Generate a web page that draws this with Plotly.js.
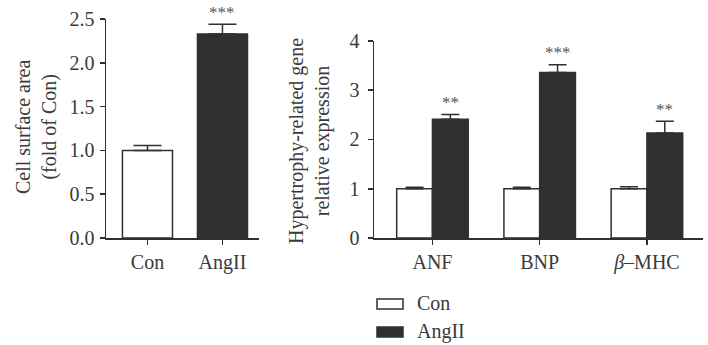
<!DOCTYPE html>
<html>
<head>
<meta charset="utf-8">
<script src="https://cdn.plot.ly/plotly-3.0.1.min.js"></script>
<style>html,body{margin:0;padding:0;background:#fff;}#chart{width:708px;height:345px;}</style>
</head>
<body>
<div id="chart"></div>
<script>
// Left panel: cell surface area
const areaCategories = ["Con", "AngII"];
const areaValues = [1.00, 2.33];
const areaErrors = [0.055, 0.11];
const areaSig = ["", "***"];

// Right panel: hypertrophy-related gene expression
const geneCategories = ["ANF", "BNP", "<i>β</i>–MHC"];
const conValues = [1.00, 1.00, 1.00];
const conErrors = [0.03, 0.03, 0.04];
const angValues = [2.41, 3.36, 2.13];
const angErrors = [0.10, 0.16, 0.24];
const geneSig = ["**", "***", "**"];

const seriesNames = ["Con", "AngII"];

const DARK = "#2f302f";
const TXT = "#3a3a3a";
const FONT = "Liberation Serif, Times New Roman, serif";

const traces = [
  {
    type: "bar", x: areaCategories, y: areaValues, xaxis: "x", yaxis: "y",
    marker: {color: ["#ffffff", DARK], line: {color: DARK, width: 1.5}},
    error_y: {type: "data", array: areaErrors, arrayminus: areaErrors.map(() => 0), symmetric: false,
              color: DARK, thickness: 1.5, width: 14},
    showlegend: false, hoverinfo: "x+y"
  },
  {
    type: "bar", name: seriesNames[0], x: geneCategories, y: conValues, xaxis: "x2", yaxis: "y2",
    marker: {color: "#ffffff", line: {color: DARK, width: 1.5}},
    error_y: {type: "data", array: conErrors, arrayminus: conErrors.map(() => 0), symmetric: false,
              color: DARK, thickness: 1.5, width: 9},
    showlegend: false
  },
  {
    type: "bar", name: seriesNames[1], x: geneCategories, y: angValues, xaxis: "x2", yaxis: "y2",
    marker: {color: DARK, line: {color: DARK, width: 1.5}},
    error_y: {type: "data", array: angErrors, arrayminus: angErrors.map(() => 0), symmetric: false,
              color: DARK, thickness: 1.5, width: 9},
    showlegend: false
  }
];

const annotations = [];
areaCategories.forEach((c, i) => {
  if (areaSig[i]) annotations.push({xref: "x", yref: "y", x: c, y: areaValues[i] + areaErrors[i],
    text: areaSig[i], showarrow: false, yanchor: "middle", yshift: 12, borderpad: 0,
    font: {family: FONT, size: 17, color: "#555"}});
});
geneCategories.forEach((c, i) => {
  if (geneSig[i]) annotations.push({xref: "x2", yref: "y2", x: c, y: angValues[i] + angErrors[i],
    text: geneSig[i], showarrow: false, yanchor: "middle", xshift: 18, yshift: 12, borderpad: 0,
    font: {family: FONT, size: 17, color: "#555"}});
});
// axis titles
annotations.push({xref: "paper", yref: "paper", x: 37/708, y: 1 - 127/345, textangle: -90,
  xanchor: "center", yanchor: "middle",
  text: "Cell surface area<br>(fold of Con)", showarrow: false,
  font: {family: FONT, size: 20, color: TXT}});
annotations.push({xref: "paper", yref: "paper", x: 309/708, y: 1 - 141/345, textangle: -90,
  xanchor: "center", yanchor: "middle",
  text: "Hypertrophy-related gene<br>relative expression", showarrow: false,
  font: {family: FONT, size: 20, color: TXT}});
// legend text
seriesNames.forEach((n, i) => {
  annotations.push({xref: "paper", yref: "paper", x: 415/708, y: 1 - (303 + i*28)/345,
    xanchor: "left", yanchor: "middle", text: n, showarrow: false,
    font: {family: FONT, size: 20, color: TXT}});
});

const shapes = [
  {type: "rect", xref: "paper", yref: "paper", x0: 377/708, x1: 403/708, y0: 1 - 309/345, y1: 1 - 299/345,
   fillcolor: "#ffffff", line: {color: DARK, width: 1.5}},
  {type: "rect", xref: "paper", yref: "paper", x0: 377/708, x1: 403/708, y0: 1 - 337/345, y1: 1 - 327/345,
   fillcolor: DARK, line: {color: DARK, width: 1.5}}
];

const axisCommon = {
  showline: true, linecolor: DARK, linewidth: 1.5, showgrid: false, zeroline: false,
  ticks: "outside", ticklen: 5, tickwidth: 1.5, tickcolor: DARK,
  tickfont: {family: FONT, size: 20, color: TXT}, fixedrange: true
};

const layout = {
  width: 708, height: 345,
  margin: {l: 0, r: 0, t: 0, b: 0},
  paper_bgcolor: "#ffffff", plot_bgcolor: "#ffffff",
  barmode: "group", bargap: 0.333, bargroupgap: 0,
  showlegend: false,
  xaxis: Object.assign({}, axisCommon, {domain: [106/708, 259/708], range: [-0.553, 1.487], anchor: "y", type: "category", ticklabelstandoff: 0}),
  yaxis: Object.assign({}, axisCommon, {domain: [0.3101, 0.9449], range: [0, 2.5], dtick: 0.5, tickformat: ".1f", anchor: "x", ticklabelstandoff: 1}),
  xaxis2: Object.assign({}, axisCommon, {domain: [374/708, 703/708], range: [-0.545, 2.523], anchor: "y2", type: "category", ticklabelstandoff: 0}),
  yaxis2: Object.assign({}, axisCommon, {domain: [0.3101, 0.8812], range: [0, 4], dtick: 1, anchor: "x2", ticklabelstandoff: 4}),
  annotations: annotations,
  shapes: shapes
};

Plotly.newPlot("chart", traces, layout, {displayModeBar: false, staticPlot: true});
</script>
</body>
</html>
